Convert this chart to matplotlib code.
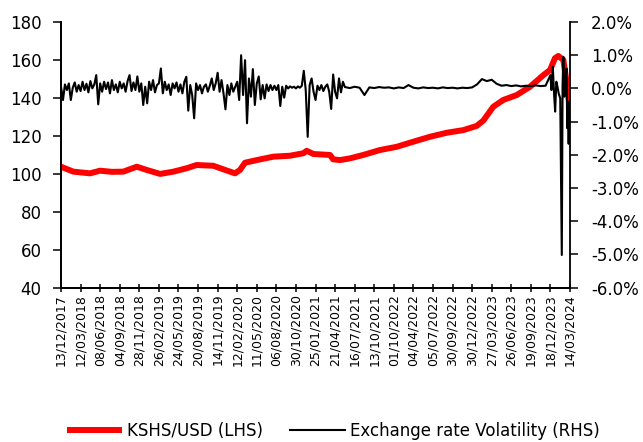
import numpy as np
import matplotlib

matplotlib.use("Agg")
import matplotlib.pyplot as plt

# x axis is a category axis: one unit = one labelled tick
tick_labels = [
    "13/12/2017", "12/03/2018", "08/06/2018", "04/09/2018", "28/11/2018",
    "26/02/2019", "24/05/2019", "20/08/2019", "14/11/2019", "12/02/2020",
    "11/05/2020", "06/08/2020", "30/10/2020", "25/01/2021", "21/04/2021",
    "16/07/2021", "13/10/2021", "01/10/2022", "04/04/2022", "05/07/2022",
    "30/09/2022", "30/12/2022", "27/03/2023", "26/06/2023", "19/09/2023",
    "18/12/2023", "14/03/2024",
]

# KSHS/USD (LHS)
kes_pos = [0.0, 0.63, 1.48, 1.99, 2.6, 3.18, 3.87, 4.38, 5.06, 5.74, 6.42,
           6.93, 7.78, 8.38, 8.89, 9.14, 9.4, 10.0, 10.85, 11.7, 12.38,
           12.55, 12.89, 13.74, 13.9, 14.25, 14.76, 15.44, 16.29, 17.15,
           18.0, 18.85, 19.7, 20.55, 21.23, 21.57, 22.08, 22.59, 23.28,
           23.96, 24.64, 24.98, 25.23, 25.4, 25.66, 25.86, 26.0]
kes_usd = [103.7, 101.1, 100.2, 101.6, 101.0, 101.1, 103.7, 102.0, 99.9,
           101.1, 102.9, 104.6, 104.2, 102.0, 100.2, 102.0, 105.8, 107.2,
           109.0, 109.5, 110.8, 112.1, 110.4, 109.9, 107.6, 107.2, 108.1,
           109.9, 112.5, 114.2, 116.9, 119.5, 121.6, 123.0, 125.2, 128.0,
           135.3, 138.9, 141.5, 145.9, 152.0, 154.7, 160.9, 162.1, 160.0,
           145.9, 133.6]

# Exchange rate volatility (RHS, %), noisy period sampled every 0.1 tick
vol_noisy = [
    0.05, -0.35, 0.12, -0.05, 0.15, -0.35, 0.02, 0.18, -0.10, 0.10,
    -0.08, 0.20, -0.05, 0.14, -0.12, 0.22, 0.00, 0.12, 0.40, -0.48,
    0.15, -0.10, 0.20, -0.02, 0.18, -0.15, 0.25, -0.05, 0.12, -0.12,
    0.20, 0.00, 0.15, -0.10, 0.22, 0.40, -0.08, 0.18, -0.05, 0.36,
    -0.10, 0.15, -0.50, 0.05, -0.45, 0.20, -0.05, 0.25, -0.12, 0.10,
    0.15, 0.60, -0.15, 0.20, -0.05, 0.12, -0.20, 0.15, 0.00, 0.18,
    -0.10, 0.12, -0.15, 0.20, 0.35, -0.67, 0.10, -0.20, -0.90, 0.15,
    -0.05, 0.10, -0.15, 0.05, 0.12, -0.10, 0.08, 0.30, -0.05, 0.15,
    0.47, -0.10, 0.25, -0.15, -0.63, 0.10, -0.20, 0.15, -0.10, 0.05,
    0.20, -0.35, 1.00, -0.20, 0.85, -1.05, 0.30, -0.25, 0.58, -0.50,
    0.15, 0.36, -0.33, 0.10, -0.30, 0.12, -0.08, 0.10, -0.05, 0.08,
    -0.05, 0.10, -0.53, 0.05, -0.28, 0.08, 0.00, 0.06, 0.02, 0.05,
    0.00, 0.06, 0.02, 0.08, 0.53, -0.05, -1.46, 0.10, 0.30, -0.10,
    -0.35, 0.08, -0.05, 0.10, -0.08, 0.05, 0.12, -0.10, -0.62, 0.42,
    -0.10, -0.30, 0.30, -0.12, 0.20,
]
# calm period from tick 14.5, every 0.25 tick
vol_calm = [
    0.04, 0.01, 0.05, 0.02, -0.20, 0.03, 0.01, 0.04, 0.02, 0.03,
    0.00, 0.03, 0.01, 0.10, 0.02, 0.00, 0.03, 0.01, 0.02, 0.00,
    0.03, 0.01, 0.02, 0.00, 0.02, 0.01, 0.03, 0.12, 0.28, 0.22,
    0.26, 0.14, 0.08, 0.10, 0.07, 0.09, 0.06, 0.08, 0.07, 0.09,
    0.07, 0.08,
]
# last weeks, irregular
vol_end_pos = [25.0, 25.05, 25.12, 25.18, 25.24, 25.3, 25.36, 25.42, 25.5,
               25.58, 25.62, 25.66, 25.71, 25.76, 25.82, 25.86, 25.9, 25.93,
               25.96, 26.0]
vol_end = [0.40, -0.05, 0.65, -0.10, -0.70, 0.20, 0.05, -0.15, -0.30, -5.02,
           0.10, 0.95, -0.25, 0.20, 0.60, -1.20, -0.40, -1.67, -0.60, -0.65]

vol_pos = np.concatenate([np.arange(len(vol_noisy)) * 0.1,
                          14.5 + np.arange(len(vol_calm)) * 0.25,
                          vol_end_pos])
vol_pct = np.concatenate([vol_noisy, vol_calm, vol_end])

plt.rcParams["font.family"] = "DejaVu Sans"

fig = plt.figure(figsize=(6.43, 4.42), dpi=100)
ax = fig.add_axes([0.0949, 0.3495, 0.7916, 0.6007])
ax2 = ax.twinx()

l1, = ax.plot(kes_pos, kes_usd, color="#ff0000", linewidth=4.3,
              solid_capstyle="butt", label="KSHS/USD (LHS)")
l2, = ax2.plot(vol_pos, vol_pct, color="black", linewidth=1.5,
               label="Exchange rate Volatility (RHS)")

ax.set_xlim(0, len(tick_labels) - 1)
ax.set_ylim(40, 180)
ax.set_yticks(range(40, 181, 20))
ax2.set_ylim(-6, 2)
ax2.set_yticks(range(-6, 3))
ax2.set_yticklabels([f"{v:.1f}%" for v in range(-6, 3)])

ax.set_xticks(range(len(tick_labels)))
ax.set_xticklabels(tick_labels, rotation=90, fontsize=9)

for a in (ax, ax2):
    a.spines["top"].set_visible(False)
    for s in a.spines.values():
        s.set_linewidth(1.3)
        s.set_color("black")
ax.spines["right"].set_visible(False)

ax.tick_params(axis="x", direction="inout", length=6, width=1.1, pad=1.5)
ax.tick_params(axis="y", direction="out", length=5.5, width=1.1, pad=8.5,
               labelsize=12)
ax2.tick_params(axis="y", direction="out", length=5.5, width=1.1, pad=9.5,
                labelsize=12)

fig.legend(handles=[l1, l2], loc="center", bbox_to_anchor=(0.518, 0.025),
           ncol=2, frameon=False, fontsize=12, handlelength=3.3,
           handletextpad=0.3, columnspacing=1.6, borderpad=0.0)

fig.savefig("out.png", dpi=100, facecolor="white")
